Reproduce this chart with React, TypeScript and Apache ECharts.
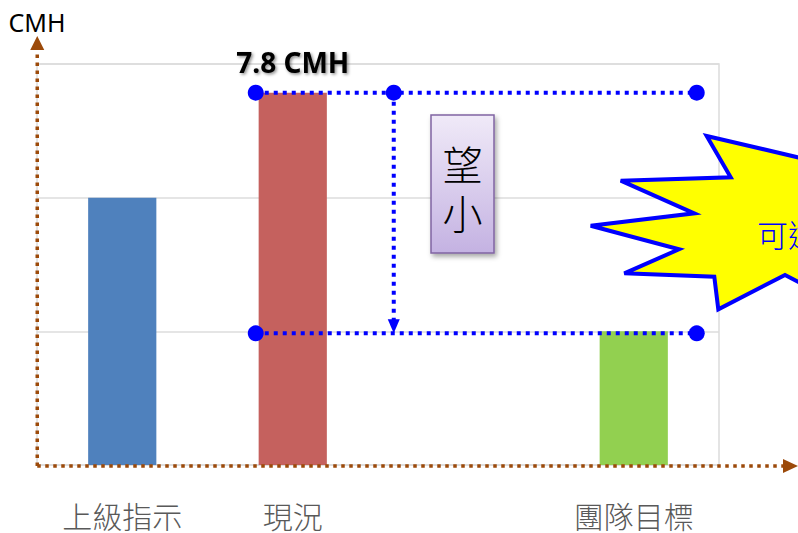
import React, { useEffect, useRef } from "react";
import * as echarts from "echarts";

const categories = ["上級指示", "現況", "", "團隊目標"];
const values: (number | null)[] = [5.6, 7.8, null, 2.8];
const barColors = ["#4f81bd", "#c5615e", "#92d050", "#92d050"];
const yMax = 8.4;
const yInterval = 2.8;
const unitName = "CMH";
const boxText = "望\n小";
const burstText = "可達成";

const CJK = "'Noto Sans CJK TC', 'Noto Sans', sans-serif";

export default function App() {
  const ref = useRef<HTMLDivElement>(null);
  useEffect(() => {
    if (!ref.current) return;
    const chart = echarts.init(ref.current, undefined, { renderer: "svg" });
    chart.setOption({
      animation: false,
      backgroundColor: "#ffffff",
      grid: {
        left: 37,
        right: 79,
        top: 64,
        bottom: 68,
        show: true,
        borderColor: "#dcdcdc",
        borderWidth: 1.5,
      },
      xAxis: {
        type: "category",
        data: categories,
        axisLine: { show: false },
        axisTick: { show: false },
        axisLabel: {
          margin: 35,
          fontSize: 30,
          lineHeight: 30,
          color: "#595959",
          fontFamily: CJK,
          fontWeight: 300,
        },
      },
      yAxis: {
        type: "value",
        min: 0,
        max: yMax,
        interval: yInterval,
        name: unitName,
        nameLocation: "end",
        nameGap: 30,
        nameTextStyle: { fontSize: 25, color: "#000", fontFamily: "'Noto Sans', sans-serif", align: "center" },
        axisLine: { show: false },
        axisTick: { show: false },
        axisLabel: { show: false },
        splitLine: { lineStyle: { color: "#dcdcdc", width: 1.5 } },
      },
      series: [
        {
          type: "bar",
          barWidth: "40%",
          data: values.map((v, i) => ({
            value: v,
            itemStyle: { color: barColors[i] },
            label:
              i === 1
                ? {
                    show: true,
                    position: "top",
                    distance: 17,
                    formatter: "{c} " + unitName,
                    fontSize: 28,
                    fontWeight: "bold",
                    color: "#000",
                    fontFamily: "'Noto Sans', sans-serif",
                    textShadowColor: "rgba(0,0,0,0.45)",
                    textShadowBlur: 3,
                    textShadowOffsetX: 1.5,
                    textShadowOffsetY: 1.5,
                  }
                : { show: false },
          })),
        },
      ],
    });

    const [, y0] = chart.convertToPixel({ gridIndex: 0 }, [0, 0]) as number[];
    const xRed = chart.convertToPixel({ xAxisIndex: 0 }, categories[1]) as number;
    const xGoal = chart.convertToPixel({ xAxisIndex: 0 }, categories[3]) as number;
    const yTop = chart.convertToPixel({ yAxisIndex: 0 }, values[1] as number) as number;
    const yGoal = chart.convertToPixel({ yAxisIndex: 0 }, values[3] as number) as number;
    const origin = chart.convertToPixel({ xAxisIndex: 0 }, categories[0]) as number;
    const axisX = origin - 85;
    const axisY = y0 + 1;

    const brown = "#9c4a0a";
    const blue = "#0000ff";
    const xL = xRed - 37;
    const xM = xRed + 101;
    const xR = xGoal + 63;
    const brownDash = { stroke: brown, lineWidth: 3.5, lineDash: [3.5, 4.5] };
    const blueDash = { stroke: blue, lineWidth: 4, lineDash: [4, 5] };

    const graphic: any[] = [
      {
        type: "line",
        z: 50,
        shape: { x1: axisX, y1: axisY, x2: axisX, y2: 50 },
        style: brownDash,
      },
      {
        type: "polygon",
        z: 50,
        shape: { points: [[axisX - 7, 50], [axisX + 7, 50], [axisX, 36]] },
        style: { fill: brown },
      },
      {
        type: "line",
        z: 50,
        shape: { x1: axisX, y1: axisY, x2: 784, y2: axisY },
        style: brownDash,
      },
      {
        type: "polygon",
        z: 50,
        shape: { points: [[783, axisY - 7], [783, axisY + 7], [798, axisY]] },
        style: { fill: brown },
      },
      {
        type: "line",
        z: 60,
        shape: { x1: xL, y1: yTop, x2: xR, y2: yTop },
        style: blueDash,
      },
      {
        type: "line",
        z: 60,
        shape: { x1: xL, y1: yGoal + 2, x2: xR, y2: yGoal + 2 },
        style: blueDash,
      },
      {
        type: "line",
        z: 60,
        shape: { x1: xM, y1: yTop, x2: xM, y2: yGoal - 10 },
        style: blueDash,
      },
      {
        type: "polygon",
        z: 60,
        shape: { points: [[xM - 6, yGoal - 12], [xM + 6, yGoal - 12], [xM, yGoal + 2]] },
        style: { fill: blue },
      },
      ...[
        [xL, yTop],
        [xM, yTop],
        [xR, yTop],
        [xL, yGoal + 2],
        [xR, yGoal + 2],
      ].map(([cx, cy]) => ({
        type: "circle",
        z: 61,
        shape: { cx, cy, r: 8 },
        style: { fill: blue },
      })),
      {
        type: "rect",
        z: 70,
        shape: { x: 431, y: 115, width: 63, height: 138 },
        style: {
          fill: new echarts.graphic.LinearGradient(0, 0, 0, 1, [
            { offset: 0, color: "#f0eaf8" },
            { offset: 1, color: "#c4b2e2" },
          ]),
          stroke: "#8064a2",
          lineWidth: 1.5,
          shadowBlur: 5,
          shadowColor: "rgba(0,0,0,0.35)",
          shadowOffsetX: 2,
          shadowOffsetY: 3,
        },
      },
      {
        type: "text",
        z: 71,
        x: 462.5,
        y: 187,
        style: {
          text: boxText,
          fill: "#000",
          fontSize: 40,
          lineHeight: 49,
          fontFamily: CJK,
          fontWeight: 300,
          textAlign: "center",
          textVerticalAlign: "middle",
        },
      },
      {
        type: "polygon",
        z: 80,
        shape: {
          points: [
            [706.7, 136],
            [830, 164.8],
            [880, 140],
            [900, 200],
            [900, 260],
            [860, 300],
            [820, 293],
            [785, 275],
            [718.3, 309.3],
            [714.3, 276.7],
            [624.3, 273.3],
            [679, 249.3],
            [590.7, 225.7],
            [694.3, 213.3],
            [620.7, 180.7],
            [730.7, 177.3],
          ],
        },
        style: { fill: "#ffff00", stroke: blue, lineWidth: 4, lineJoin: "miter" },
      },
      {
        type: "text",
        z: 81,
        x: 757,
        y: 233,
        style: {
          text: burstText,
          fill: blue,
          fontSize: 31,
          fontFamily: CJK,
          fontWeight: 300,
          textAlign: "left",
          textVerticalAlign: "middle",
        },
      },
    ];
    chart.setOption({ graphic });
    return () => chart.dispose();
  }, []);
  return (
    <div
      ref={ref}
      style={{ position: "fixed", left: 0, top: 0, width: 798, height: 533, background: "#fff" }}
    />
  );
}
